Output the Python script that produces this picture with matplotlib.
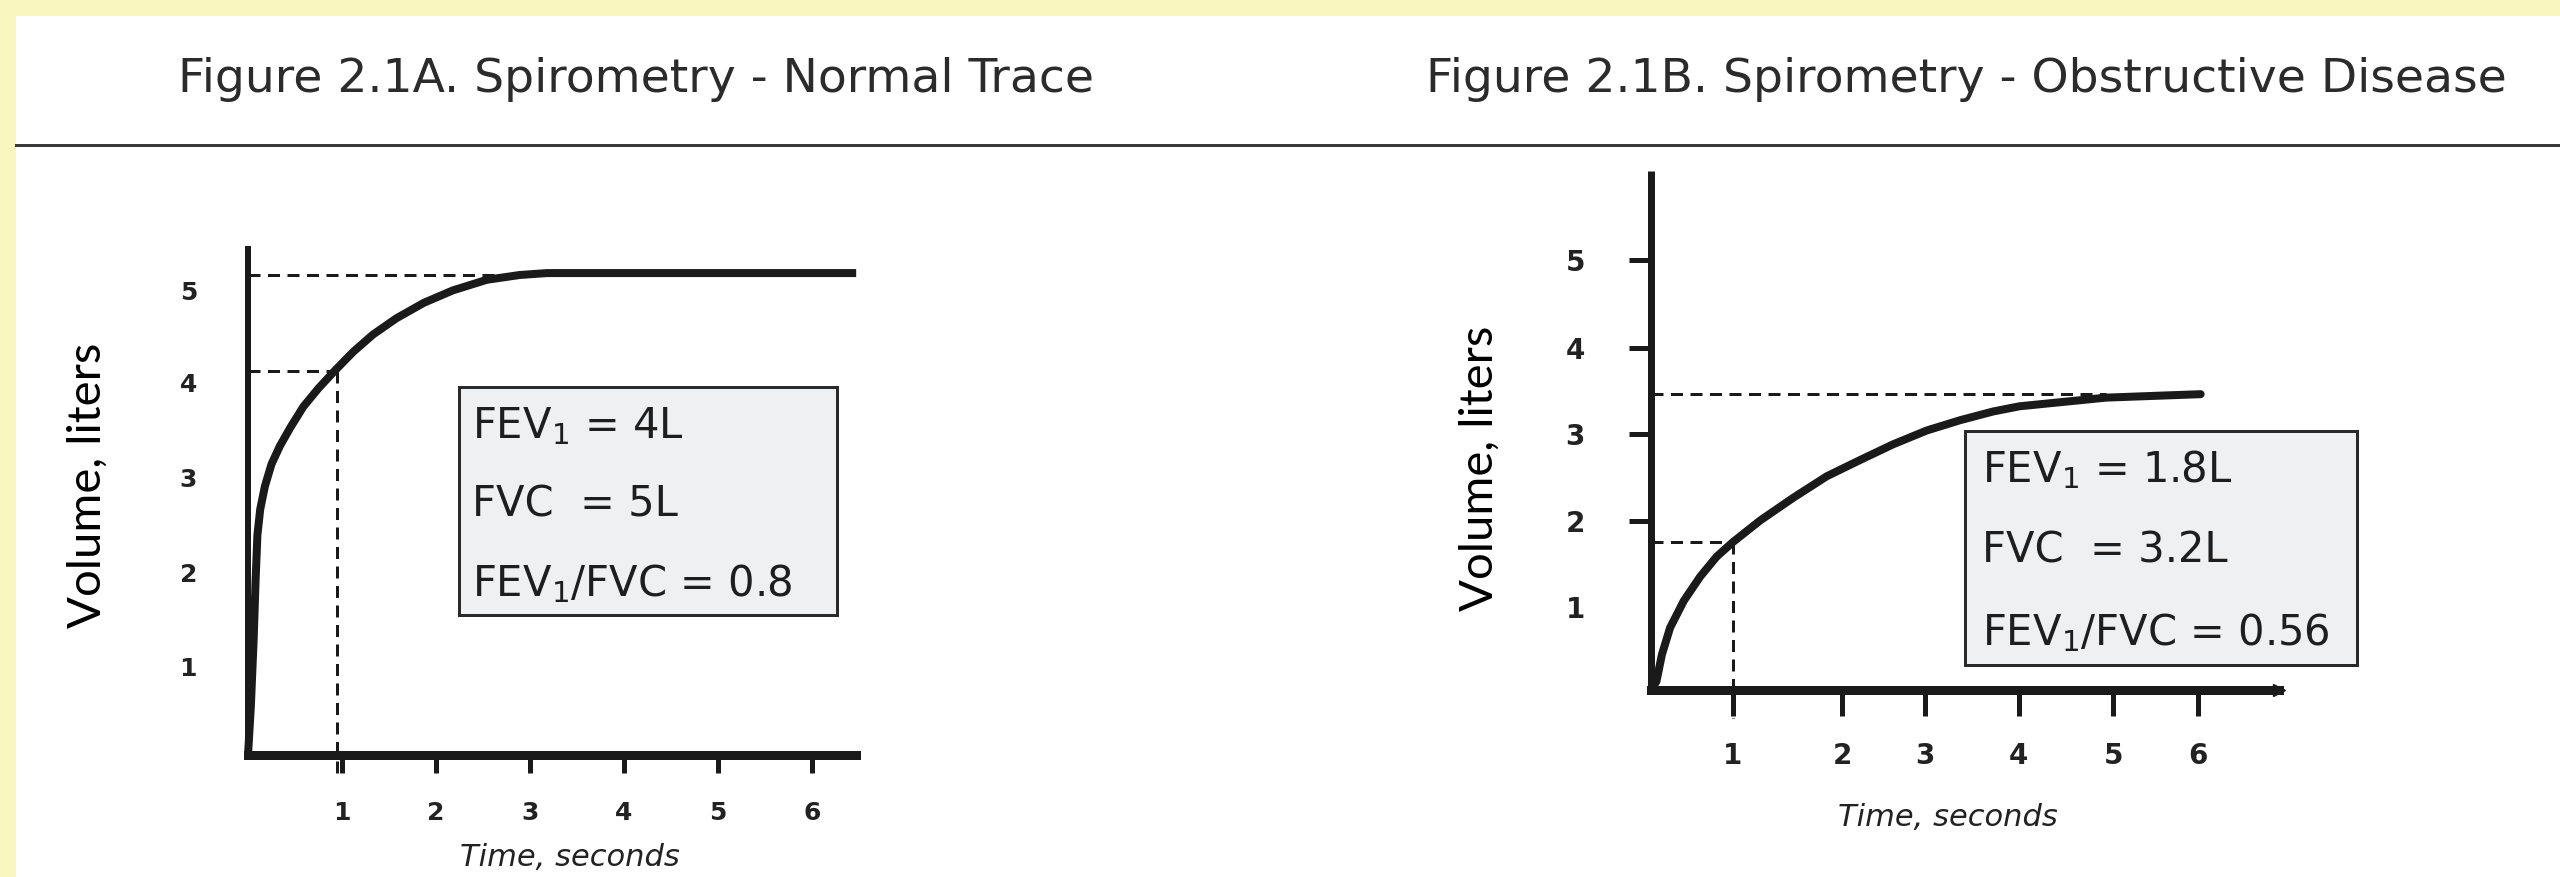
import numpy as np
import matplotlib
matplotlib.use("Agg")
import matplotlib.pyplot as plt
from matplotlib.patches import Rectangle
from matplotlib.lines import Line2D

W, H = 2560, 877

# ---- data (time in seconds, volume in liters) ----
a_time = [0.0, 0.03, 0.06, 0.08, 0.10, 0.13, 0.18, 0.25, 0.34, 0.45, 0.59, 0.75, 0.93,
          1.12, 1.33, 1.58, 1.87, 2.18, 2.54, 2.89, 3.18, 6.47]
a_vol = [0.0, 0.50, 1.20, 1.80, 2.29, 2.56, 2.80, 3.03, 3.22, 3.41, 3.63, 3.82, 4.01,
         4.20, 4.38, 4.55, 4.71, 4.84, 4.95, 5.00, 5.02, 5.02]
a_fev1, a_fvc = 4.0, 5.0
a_xtick_pos = [1, 2, 3, 4, 5, 6]
a_ytick_pos = [0.92, 1.90, 2.89, 3.88, 4.84]
a_lines = ["FEV$_1$ = 4L", "FVC  = 5L", "FEV$_1$/FVC = 0.8"]

b_time = [0.0, 0.06, 0.12, 0.21, 0.36, 0.54, 0.72, 0.90, 1.20, 1.56, 1.93, 2.30, 2.66,
          3.03, 3.40, 3.76, 4.05, 5.00, 6.04]
b_vol = [0.0, 0.10, 0.41, 0.72, 1.03, 1.31, 1.54, 1.71, 1.96, 2.22, 2.47, 2.66, 2.84,
         3.00, 3.12, 3.22, 3.28, 3.38, 3.42]
b_fev1, b_fvc = 1.71, 3.42
b_xtick_pos = [0.90, 2.10, 3.01, 4.04, 5.08, 6.01]
b_ytick_pos = [0.96, 1.95, 2.96, 3.95, 4.97]
b_lines = ["FEV$_1$ = 1.8L", "FVC  = 3.2L", "FEV$_1$/FVC = 0.56"]

tick_labels = ["1", "2", "3", "4", "5", "6"]
ytick_labels = ["1", "2", "3", "4", "5"]

INK = "#1a1a1a"
YELLOW = "#faf6bf"


def px_rect(left, top, right, bottom):
    return [left / W, 1 - bottom / H, (right - left) / W, (bottom - top) / H]


def pt(px):
    return px * 72 / 100


fig = plt.figure(figsize=(W / 100, H / 100), dpi=100, facecolor="white")

# yellow frame + divider
fig.add_artist(Rectangle((0, 0), 16 / W, 1, transform=fig.transFigure, color=YELLOW, lw=0))
fig.add_artist(Rectangle((0, 1 - 16 / H), 1, 16 / H, transform=fig.transFigure, color=YELLOW, lw=0))
fig.add_artist(Line2D([16 / W, 1], [1 - 145 / H] * 2, transform=fig.transFigure, color="#3a3a3a", lw=pt(3)))

fig.text(636 / W, 1 - 80 / H, "Figure 2.1A. Spirometry - Normal Trace", ha="center", va="center",
         fontsize=34, color="#2b2b2b", family="DejaVu Sans")
fig.text(1966 / W, 1 - 80 / H, "Figure 2.1B. Spirometry - Obstructive Disease", ha="center", va="center",
         fontsize=34, color="#2b2b2b", family="DejaVu Sans")

fig.text(88 / W, 1 - 485 / H, "Volume, liters", rotation=90, ha="center", va="center",
         fontsize=34, color="black", family=["Lato", "DejaVu Sans"])
fig.text(1480 / W, 1 - 468 / H, "Volume, liters", rotation=90, ha="center", va="center",
         fontsize=34, color="black", family=["Lato", "DejaVu Sans"])


def setup(ax, xmax, ymax, lw_y, lw_x):
    ax.set_xlim(0, xmax)
    ax.set_ylim(0, ymax)
    ax.set_facecolor("none")
    for s in ["top", "right"]:
        ax.spines[s].set_visible(False)
    ax.spines["left"].set_linewidth(pt(lw_y))
    ax.spines["bottom"].set_linewidth(pt(lw_x))
    ax.spines["left"].set_color(INK)
    ax.spines["bottom"].set_color(INK)
    ax.spines["left"].set_capstyle("butt")


dash = (0, (4, 2.5))

# ---- panel A ----
ax1 = fig.add_axes(px_rect(248, 755 - 5.3 * 96, 248 + 6.47 * 94, 755))
setup(ax1, 6.47, 5.3, 6, 9)
ax1.plot(a_time, a_vol, color=INK, lw=pt(8), solid_capstyle="butt", solid_joinstyle="round",
         clip_on=False, zorder=3)
ax1.plot([0, 2.75], [a_fvc, a_fvc], color=INK, lw=pt(3), ls=dash, zorder=2)
ax1.plot([0, 0.95], [a_fev1, a_fev1], color=INK, lw=pt(3), ls=dash, zorder=2)
ax1.plot([0.95, 0.95], [a_fev1, -0.2], color=INK, lw=pt(3), ls=dash, zorder=2, clip_on=False)
ax1.set_xticks(a_xtick_pos, tick_labels)
ax1.set_yticks(a_ytick_pos, ytick_labels)
ax1.tick_params(axis="x", direction="out", length=pt(18), width=pt(5), color=INK, pad=pt(28),
                labelsize=18, labelcolor="#222222")
ax1.tick_params(axis="y", length=0, pad=pt(51), labelsize=18, labelcolor="#222222")
for lab in ax1.get_xticklabels() + ax1.get_yticklabels():
    lab.set_fontweight("bold")
ax1.add_patch(Rectangle((2.24, 1.46), 4.03, 2.37, facecolor="#eff0f2", edgecolor="#2a2a2a",
                        lw=pt(3), zorder=4, clip_on=False))
for v, s in zip([3.30, 2.48, 1.65], a_lines):
    ax1.text(2.38, v, s, fontsize=30, color="#1e1e1e", va="baseline", ha="left", zorder=5)
fig.text(570 / W, 1 - 857 / H, "Time, seconds", ha="center", va="center", fontsize=22,
         style="italic", color="#222222")

# ---- panel B ----
ax2 = fig.add_axes(px_rect(1651, 690 - 6 * 86.5, 1651 + 6.9 * 91, 690))
setup(ax2, 6.9, 6.0, 7, 9)
ax2.plot(b_time, b_vol, color=INK, lw=pt(8), solid_capstyle="round", solid_joinstyle="round",
         clip_on=False, zorder=3)
ax2.plot([0, 5.0], [b_fvc, b_fvc], color=INK, lw=pt(3), ls=dash, zorder=2)
ax2.plot([0, 0.9], [b_fev1, b_fev1], color=INK, lw=pt(3), ls=dash, zorder=2)
ax2.plot([0.9, 0.9], [b_fev1, -0.32], color=INK, lw=pt(3), ls=dash, zorder=2, clip_on=False)
# pointed end of the time axis
ax2.plot(1, 0, marker=">", ms=pt(12), color=INK, transform=ax2.transAxes, clip_on=False)
ax2.set_xticks(b_xtick_pos, tick_labels)
ax2.set_yticks(b_ytick_pos, ytick_labels)
ax2.tick_params(axis="x", direction="out", length=pt(26), width=pt(5), color=INK, pad=pt(26),
                labelsize=20, labelcolor="#222222")
ax2.tick_params(axis="y", direction="out", length=pt(22), width=pt(5), color=INK, pad=pt(44),
                labelsize=20, labelcolor="#222222")
ax2.yaxis.get_major_ticks()[0].tick1line.set_visible(False)
for lab in ax2.get_xticklabels() + ax2.get_yticklabels():
    lab.set_fontweight("bold")
ax2.add_patch(Rectangle((3.45, 0.29), 4.31, 2.71, facecolor="#eff0f2", edgecolor="#2a2a2a",
                        lw=pt(3), zorder=4, clip_on=False))
for v, s in zip([2.40, 1.47, 0.52], b_lines):
    ax2.text(3.64, v, s, fontsize=30, color="#1e1e1e", va="baseline", ha="left", zorder=5)
fig.text(1948 / W, 1 - 818 / H, "Time, seconds", ha="center", va="center", fontsize=22,
         style="italic", color="#222222")

fig.savefig("out.png", dpi=100, facecolor="white")
